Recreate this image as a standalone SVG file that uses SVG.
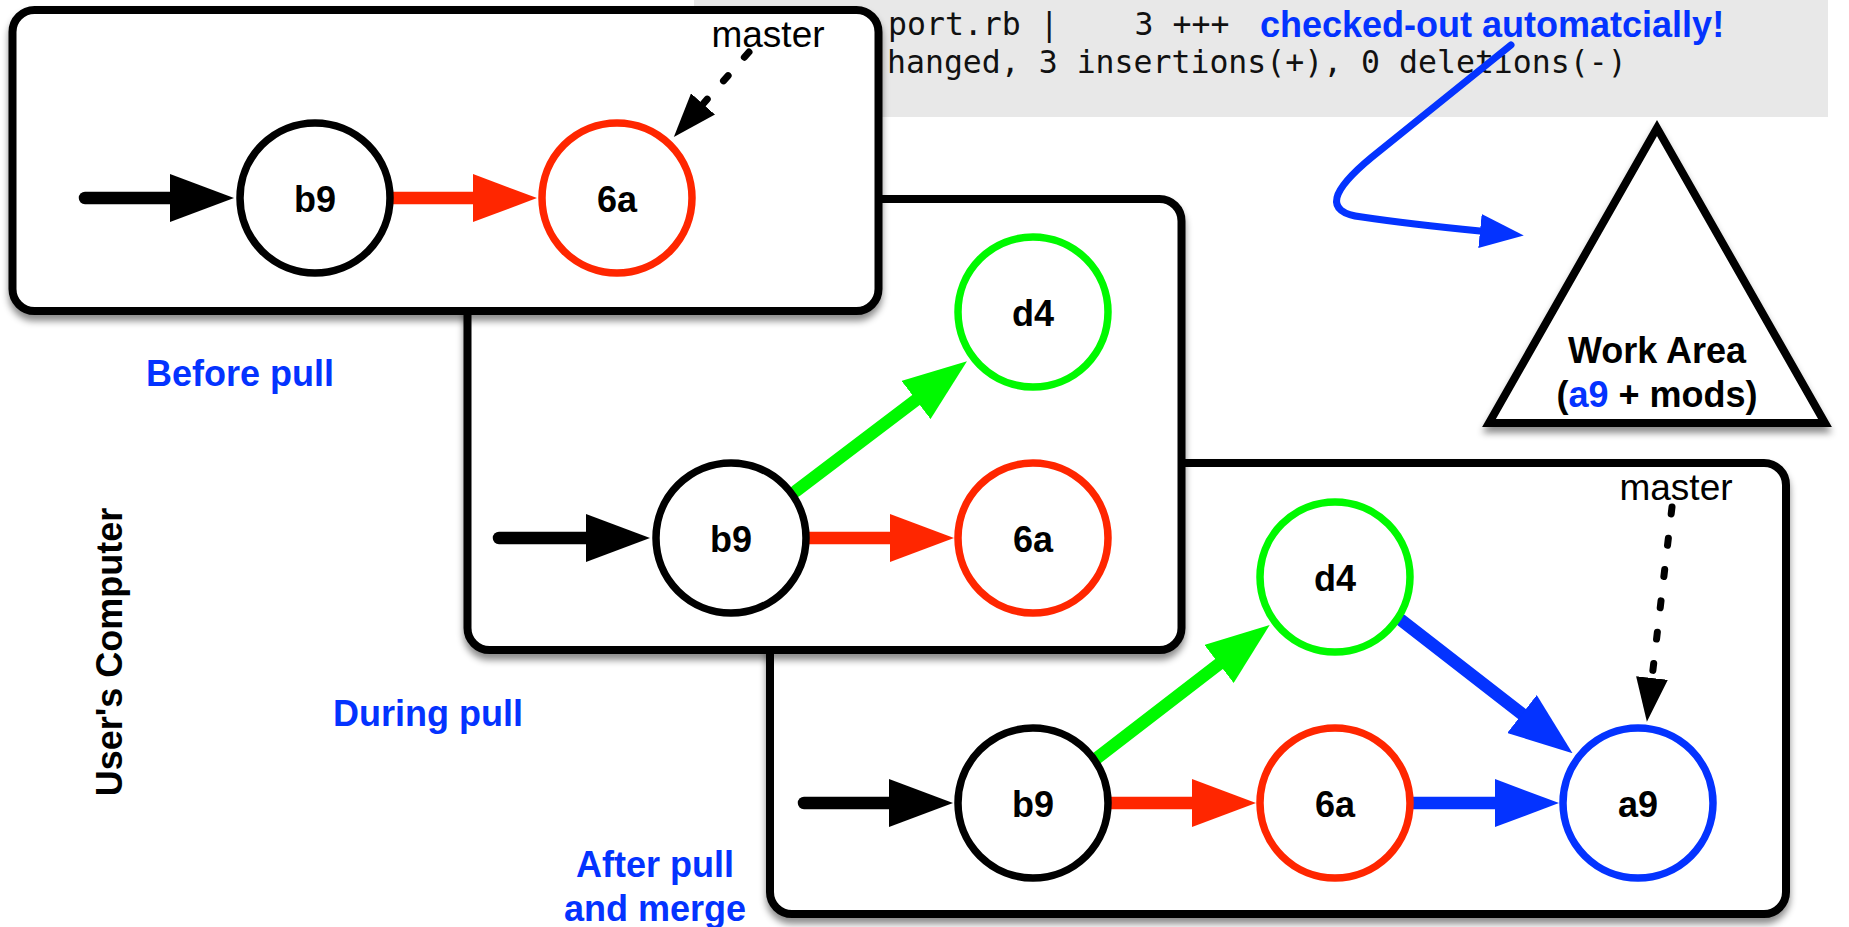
<svg xmlns="http://www.w3.org/2000/svg" width="1849" height="927" viewBox="0 0 1849 927">
<defs>
<style>
.frame{fill:#fff;stroke:#000;stroke-width:8;filter:url(#shadow)}
.node{fill:#fff;stroke-width:7.5}
.lbl{font-family:"Liberation Sans",Arial,sans-serif;font-weight:bold;font-size:36px;text-anchor:middle;fill:#000}
.blue{font-family:"Liberation Sans",Arial,sans-serif;font-weight:bold;font-size:36px;fill:#0433ff}
.mst{font-family:"Liberation Sans",Arial,sans-serif;font-size:37px;text-anchor:middle;fill:#000}
.mono{font-family:"DejaVu Sans Mono","Liberation Mono",monospace;font-size:31.5px;fill:#111;white-space:pre}
.conn{fill:none;stroke-width:12.5;stroke-linecap:round}
.dash{fill:none;stroke:#000;stroke-width:7;stroke-linecap:round;stroke-dasharray:7 24.5}
</style>
<filter id="shadow" x="-5%" y="-5%" width="110%" height="115%">
<feDropShadow dx="0" dy="6" stdDeviation="3.5" flood-color="#000" flood-opacity="0.45"/>
</filter>
<marker id="ah-black" markerUnits="userSpaceOnUse" viewBox="0 0 64 48" markerWidth="64" markerHeight="48" refX="0" refY="24" orient="auto"><path d="M0,0 L64,24 L0,48 Z" fill="#000"/></marker>
<marker id="ah-red" markerUnits="userSpaceOnUse" viewBox="0 0 64 48" markerWidth="64" markerHeight="48" refX="0" refY="24" orient="auto"><path d="M0,0 L64,24 L0,48 Z" fill="#ff2600"/></marker>
<marker id="ah-green" markerUnits="userSpaceOnUse" viewBox="0 0 64 48" markerWidth="64" markerHeight="48" refX="0" refY="24" orient="auto"><path d="M0,0 L64,24 L0,48 Z" fill="#00f900"/></marker>
<marker id="ah-blue" markerUnits="userSpaceOnUse" viewBox="0 0 64 48" markerWidth="64" markerHeight="48" refX="0" refY="24" orient="auto"><path d="M0,0 L64,24 L0,48 Z" fill="#0433ff"/></marker>
<marker id="ahs-black" markerUnits="userSpaceOnUse" viewBox="0 0 44 32" markerWidth="44" markerHeight="32" refX="0" refY="16" orient="auto"><path d="M0,0 L44,16 L0,32 Z" fill="#000"/></marker>
<marker id="ahs-blue" markerUnits="userSpaceOnUse" viewBox="0 0 44 34" markerWidth="44" markerHeight="34" refX="0" refY="17" orient="auto"><path d="M0,0 L44,17 L0,34 Z" fill="#0433ff"/></marker>
</defs>
<rect width="1849" height="927" fill="#fff"/>

<g id="terminal">
<rect x="694" y="0" width="1134" height="117" fill="#e8e8e8"/>
<text class="mono" x="888" y="35">port.rb |    3 +++</text>
<text class="mono" x="887" y="73">hanged, 3 insertions(+), 0 deletions(-)</text>
<text class="blue" x="1260" y="37" font-size="37">checked-out automatcially!</text>
</g>

<g id="frames">
<rect id="frame-after" class="frame" x="770" y="463" width="1016" height="451" rx="22"/>
<rect id="frame-during" class="frame" x="467.5" y="199" width="714" height="451" rx="22"/>
<rect id="frame-before" class="frame" x="12.5" y="10" width="866" height="301" rx="22"/>
</g>

<g id="labels">
<text class="blue" x="240" y="386" text-anchor="middle">Before pull</text>
<text class="blue" x="428" y="726" text-anchor="middle">During pull</text>
<text class="blue" x="655" y="877" text-anchor="middle">After pull</text>
<text class="blue" x="655" y="921" text-anchor="middle">and merge</text>
<text class="lbl" font-size="37" transform="translate(122,652) rotate(-90)">User's Computer</text>
</g>

<g id="connectors">
<path class="conn" stroke="#000" d="M85,198 L170,198" marker-end="url(#ah-black)"/>
<path class="conn" stroke="#ff2600" d="M393,198 L473,198" marker-end="url(#ah-red)"/>
<path class="dash" d="M749,52 L703,104" marker-end="url(#ahs-black)"/>

<path class="conn" stroke="#000" d="M499,538 L586,538" marker-end="url(#ah-black)"/>
<path class="conn" stroke="#ff2600" d="M808,538 L890,538" marker-end="url(#ah-red)"/>
<path class="conn" stroke="#00f900" d="M796,491 L916,400" marker-end="url(#ah-green)"/>

<path class="conn" stroke="#000" d="M804,803 L889,803" marker-end="url(#ah-black)"/>
<path class="conn" stroke="#ff2600" d="M1110,803 L1192,803" marker-end="url(#ah-red)"/>
<path class="conn" stroke="#0433ff" d="M1412,803 L1495,803" marker-end="url(#ah-blue)"/>
<path class="conn" stroke="#00f900" d="M1097,758 L1219,664" marker-end="url(#ah-green)"/>
<path class="conn" stroke="#0433ff" d="M1401,620 L1522,714" marker-end="url(#ah-blue)"/>
<path class="dash" d="M1672,507 L1652,678" marker-end="url(#ahs-black)"/>

<path fill="none" stroke="#0433ff" stroke-width="7" stroke-linecap="round" d="M1511,45 L1372,157 C1332,190 1322,212 1362,217 C1396,222 1440,227 1480,231" marker-end="url(#ahs-blue)"/>
</g>

<g id="master-before"><text class="mst" x="768" y="47">master</text></g>
<g id="master-after"><text class="mst" x="1676" y="500">master</text></g>

<g id="before-b9"><circle class="node" cx="315" cy="198" r="75" stroke="#000"/><text class="lbl" x="315" y="212">b9</text></g>
<g id="before-6a"><circle class="node" cx="617" cy="198" r="75" stroke="#ff2600"/><text class="lbl" x="617" y="212">6a</text></g>

<g id="during-b9"><circle class="node" cx="731" cy="538" r="75" stroke="#000"/><text class="lbl" x="731" y="552">b9</text></g>
<g id="during-d4"><circle class="node" cx="1033" cy="312" r="75" stroke="#00f900"/><text class="lbl" x="1033" y="326">d4</text></g>
<g id="during-6a"><circle class="node" cx="1033" cy="538" r="75" stroke="#ff2600"/><text class="lbl" x="1033" y="552">6a</text></g>

<g id="after-b9"><circle class="node" cx="1033" cy="803" r="75" stroke="#000"/><text class="lbl" x="1033" y="817">b9</text></g>
<g id="after-d4"><circle class="node" cx="1335" cy="577" r="75" stroke="#00f900"/><text class="lbl" x="1335" y="591">d4</text></g>
<g id="after-6a"><circle class="node" cx="1335" cy="803" r="75" stroke="#ff2600"/><text class="lbl" x="1335" y="817">6a</text></g>
<g id="after-a9"><circle class="node" cx="1638" cy="803" r="75" stroke="#0433ff"/><text class="lbl" x="1638" y="817">a9</text></g>

<g id="work-area">
<polygon points="1657,128 1489,423 1825,423" fill="#fff" stroke="#000" stroke-width="8" stroke-linejoin="miter" filter="url(#shadow)"/>
<text class="lbl" x="1657" y="363">Work Area</text>
<text class="lbl" x="1657" y="407">(<tspan fill="#0433ff">a9</tspan> + mods)</text>
</g>
</svg>
